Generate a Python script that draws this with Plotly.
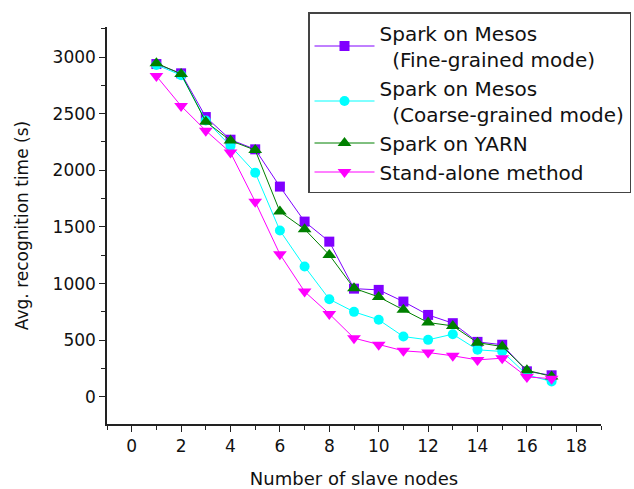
import plotly.graph_objects as go

nodes = list(range(1, 18))
fine = [2938, 2856, 2470, 2270, 2185, 1856, 1547, 1370, 955, 944, 841, 723, 650, 485, 460, 225, 190]
coarse = [2930, 2840, 2440, 2215, 1979, 1468, 1150, 862, 750, 680, 532, 503, 553, 415, 400, 194, 135]
yarn = [2946, 2850, 2429, 2262, 2178, 1635, 1480, 1253, 958, 882, 768, 656, 626, 478, 444, 235, 180]
stand = [2832, 2568, 2350, 2156, 1723, 1259, 929, 732, 518, 459, 406, 391, 362, 326, 341, 176, 160]

series = [
    ("Spark on Mesos<br>  (Fine-grained mode)", fine, "#8000FF", "square", 10),
    ("Spark on Mesos<br>  (Coarse-grained mode)", coarse, "#00FFFF", "circle", 10),
    ("Spark on YARN", yarn, "#008000", "triangle-up", 12),
    ("Stand-alone method", stand, "#FF00FF", "triangle-down", 12),
]

FONT = "DejaVu Sans, Liberation Sans, Arial"

fig = go.Figure()
for name, vals, color, sym, sz in series:
    fig.add_trace(go.Scatter(
        x=nodes, y=vals, name=name, mode="lines+markers",
        line=dict(color=color, width=1),
        marker=dict(symbol=sym, size=sz, color=color),
    ))

axis_common = dict(
    showline=True, linecolor="#222", linewidth=1.5,
    ticks="outside", ticklen=6, tickwidth=1.2, tickcolor="#222",
    showgrid=False, zeroline=False, automargin=False,
    tickfont=dict(family=FONT, size=17, color="#111"),
    mirror=False,
)

# paper: l=107, r=0 -> width 527; plot spans 107..601 (494 px)
# paper: t=12, b=65 -> height 412; plot spans 27..424 (397 px)
fig.update_xaxes(range=[-1, 19], tickmode="array", tickvals=list(range(0, 19, 2)),
                 domain=[0, 494/527],
                 minor=dict(ticks="outside", ticklen=4, tickcolor="#222", dtick=1, tick0=-1),
                 title=dict(text="Number of slave nodes", font=dict(family=FONT, size=18, color="#111"), standoff=20),
                 **axis_common)
fig.update_yaxes(range=[-240, 3265], tickmode="array", tickvals=list(range(0, 3001, 500)),
                 domain=[0, 397/412],
                 minor=dict(ticks="outside", ticklen=4, tickcolor="#222", dtick=250, tick0=-250),
                 title=dict(text="Avg. recognition time (s)", font=dict(family=FONT, size=17, color="#111"), standoff=20),
                 **axis_common)

fig.update_layout(
    width=634, height=489,
    margin=dict(l=107, r=0, t=12, b=65),
    plot_bgcolor="white", paper_bgcolor="white",
    font=dict(family=FONT, color="#111"),
    legend=dict(x=(308-107)/527, y=1,
                xanchor="left", yanchor="top",
                bgcolor="white", bordercolor="#444", borderwidth=1.5,
                font=dict(size=20, family=FONT, color="#111"),
                tracegroupgap=0, itemwidth=60),
    showlegend=True,
)

fig.write_html("out.html", config={"displayModeBar": False},
               post_script="document.body.style.margin='0';document.body.style.overflow='hidden';")
